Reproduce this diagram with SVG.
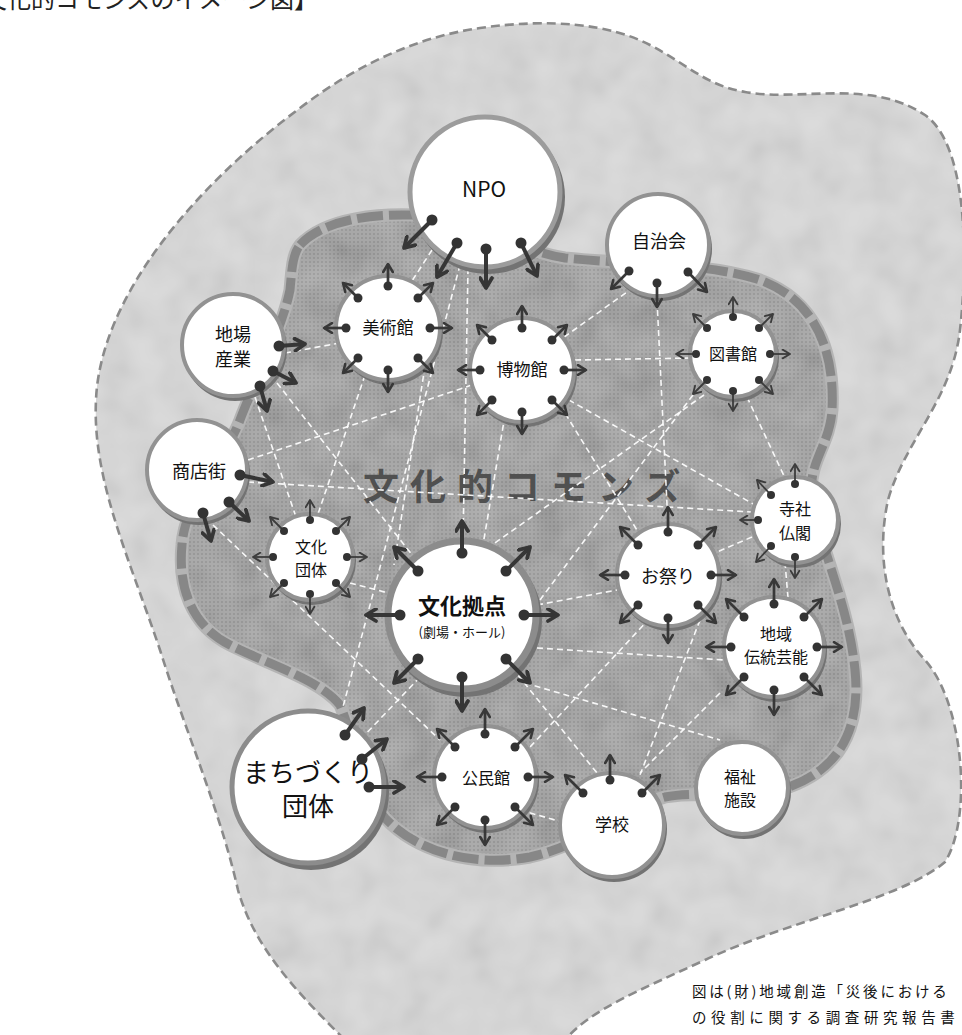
<svg xmlns="http://www.w3.org/2000/svg" width="962" height="1035" viewBox="0 0 962 1035">
<defs>
<style>
text{font-family:"Noto Sans CJK JP","Noto Sans",sans-serif;fill:#111;text-anchor:middle}
.node{fill:#fff;stroke:#929292;stroke-width:4}
.shadow{fill:#737373}
.conn{stroke:#fff;stroke-width:1.6;stroke-dasharray:6 4;fill:none;opacity:0.92}
.tk{stroke:#363636;stroke-width:4;fill:none;marker-end:url(#ahThick)}
.md{stroke:#383838;stroke-width:2.7;fill:none;marker-end:url(#ahMed)}
.tn{stroke:#3c3c3c;stroke-width:1.8;fill:none;marker-end:url(#ahThin)}
.d1{fill:#333}
</style>
<marker id="ahThick" viewBox="0 0 12 12" refX="10" refY="6" markerWidth="15" markerHeight="15" orient="auto" markerUnits="userSpaceOnUse"><path d="M2,1.2 L10,6 L2,10.8" fill="none" stroke="#363636" stroke-width="3" stroke-linecap="round" stroke-linejoin="round"/></marker>
<marker id="ahMed" viewBox="0 0 12 12" refX="10" refY="6" markerWidth="12" markerHeight="12" orient="auto" markerUnits="userSpaceOnUse"><path d="M2,1.2 L10,6 L2,10.8" fill="none" stroke="#383838" stroke-width="2.6" stroke-linecap="round" stroke-linejoin="round"/></marker>
<marker id="ahThin" viewBox="0 0 12 12" refX="10" refY="6" markerWidth="11" markerHeight="11" orient="auto" markerUnits="userSpaceOnUse"><path d="M2,1.2 L10,6 L2,10.8" fill="none" stroke="#3c3c3c" stroke-width="2" stroke-linecap="round" stroke-linejoin="round"/></marker>
<pattern id="halftone" width="4" height="4" patternUnits="userSpaceOnUse"><rect width="4" height="4" fill="#a4a4a4"/><circle cx="2" cy="2" r="1" fill="#8c8c8c"/></pattern>
<filter id="cloud" x="0" y="0" width="100%" height="100%"><feTurbulence type="fractalNoise" baseFrequency="0.03" numOctaves="2" seed="5"/><feColorMatrix type="matrix" values="1 0 0 0 0 1 0 0 0 0 1 0 0 0 0 0 0 0 0 0.35"/></filter>
<clipPath id="outerClip"><path d="M300,108 C350,70 410,38 480,28 C550,18 610,24 650,45 C690,66 705,85 745,92 C800,102 870,78 925,115 C968,145 968,260 960,330 C952,400 905,440 888,500 C875,560 888,620 925,660 C965,705 972,820 945,862 C900,900 790,920 705,960 C640,990 590,1010 565,1040 L345,1040 C300,995 255,950 238,890 C220,810 185,730 160,650 C130,560 92,480 96,400 C100,300 190,190 300,108 Z"/></clipPath>
<clipPath id="innerClip"><path d="M300,245 C325,218 380,212 430,216 C480,220 520,252 565,258 C630,265 705,262 760,280 C815,300 835,350 832,410 C830,445 808,462 812,495 C818,545 848,600 855,670 C862,740 830,775 780,790 C740,800 700,790 665,797 C620,810 585,845 530,857 C470,868 415,850 385,818 C360,790 355,740 340,705 C320,680 270,665 230,645 C190,625 178,585 182,545 C185,500 225,460 240,420 C255,380 282,330 290,290 C292,270 292,255 300,245 Z"/></clipPath>
</defs>
<rect width="962" height="1035" fill="#fff"/>
<text x="-41" y="8" font-size="24" style="fill:#222;text-anchor:start">【文化的コモンズのイメージ図】</text>

<g id="outer-area">
<path d="M300,108 C350,70 410,38 480,28 C550,18 610,24 650,45 C690,66 705,85 745,92 C800,102 870,78 925,115 C968,145 968,260 960,330 C952,400 905,440 888,500 C875,560 888,620 925,660 C965,705 972,820 945,862 C900,900 790,920 705,960 C640,990 590,1010 565,1040 L345,1040 C300,995 255,950 238,890 C220,810 185,730 160,650 C130,560 92,480 96,400 C100,300 190,190 300,108 Z" fill="#d9d9d9"/>
<rect width="962" height="1035" filter="url(#cloud)" clip-path="url(#outerClip)" opacity="0.35"/>
<path d="M300,108 C350,70 410,38 480,28 C550,18 610,24 650,45 C690,66 705,85 745,92 C800,102 870,78 925,115 C968,145 968,260 960,330 C952,400 905,440 888,500 C875,560 888,620 925,660 C965,705 972,820 945,862 C900,900 790,920 705,960 C640,990 590,1010 565,1040 L345,1040 C300,995 255,950 238,890 C220,810 185,730 160,650 C130,560 92,480 96,400 C100,300 190,190 300,108 Z" fill="none" stroke="#8a8a8a" stroke-width="2.6" stroke-dasharray="9 5"/>
</g>

<g id="inner-area">
<path d="M300,245 C325,218 380,212 430,216 C480,220 520,252 565,258 C630,265 705,262 760,280 C815,300 835,350 832,410 C830,445 808,462 812,495 C818,545 848,600 855,670 C862,740 830,775 780,790 C740,800 700,790 665,797 C620,810 585,845 530,857 C470,868 415,850 385,818 C360,790 355,740 340,705 C320,680 270,665 230,645 C190,625 178,585 182,545 C185,500 225,460 240,420 C255,380 282,330 290,290 C292,270 292,255 300,245 Z" fill="url(#halftone)"/>
<rect width="962" height="1035" filter="url(#cloud)" clip-path="url(#innerClip)" opacity="0.5"/>
<path d="M300,245 C325,218 380,212 430,216 C480,220 520,252 565,258 C630,265 705,262 760,280 C815,300 835,350 832,410 C830,445 808,462 812,495 C818,545 848,600 855,670 C862,740 830,775 780,790 C740,800 700,790 665,797 C620,810 585,845 530,857 C470,868 415,850 385,818 C360,790 355,740 340,705 C320,680 270,665 230,645 C190,625 178,585 182,545 C185,500 225,460 240,420 C255,380 282,330 290,290 C292,270 292,255 300,245 Z" fill="none" stroke="#b4b4b4" stroke-width="13"/>
<path d="M300,245 C325,218 380,212 430,216 C480,220 520,252 565,258 C630,265 705,262 760,280 C815,300 835,350 832,410 C830,445 808,462 812,495 C818,545 848,600 855,670 C862,740 830,775 780,790 C740,800 700,790 665,797 C620,810 585,845 530,857 C470,868 415,850 385,818 C360,790 355,740 340,705 C320,680 270,665 230,645 C190,625 178,585 182,545 C185,500 225,460 240,420 C255,380 282,330 290,290 C292,270 292,255 300,245 Z" fill="none" stroke="#878787" stroke-width="9" stroke-dasharray="26 6"/>
</g>

<text x="363" y="500" font-size="36" font-weight="bold" letter-spacing="11" style="fill:#505050;text-anchor:start">文化的コモンズ</text>

<g id="connectors">
<line class="conn" x1="285" y1="353" x2="340" y2="343"/>
<line class="conn" x1="255" y1="397" x2="297" y2="520"/>
<line class="conn" x1="277" y1="383" x2="420" y2="565"/>
<line class="conn" x1="248" y1="460" x2="472" y2="385"/>
<line class="conn" x1="248" y1="482" x2="752" y2="512"/>
<line class="conn" x1="213" y1="525" x2="440" y2="740"/>
<line class="conn" x1="350" y1="583" x2="392" y2="594"/>
<line class="conn" x1="460" y1="265" x2="343" y2="707"/>
<line class="conn" x1="468" y1="268" x2="463" y2="540"/>
<line class="conn" x1="432" y1="250" x2="410" y2="284"/>
<line class="conn" x1="634" y1="287" x2="560" y2="340"/>
<line class="conn" x1="657" y1="300" x2="668" y2="525"/>
<line class="conn" x1="575" y1="360" x2="690" y2="358"/>
<line class="conn" x1="693" y1="395" x2="540" y2="600"/>
<line class="conn" x1="704" y1="395" x2="492" y2="545"/>
<line class="conn" x1="747" y1="397" x2="785" y2="478"/>
<line class="conn" x1="560" y1="395" x2="755" y2="505"/>
<line class="conn" x1="560" y1="405" x2="640" y2="535"/>
<line class="conn" x1="505" y1="415" x2="483" y2="545"/>
<line class="conn" x1="425" y1="366" x2="394" y2="565"/>
<line class="conn" x1="365" y1="375" x2="318" y2="514"/>
<line class="conn" x1="537" y1="605" x2="617" y2="590"/>
<line class="conn" x1="537" y1="648" x2="724" y2="660"/>
<line class="conn" x1="505" y1="659" x2="597" y2="773"/>
<line class="conn" x1="525" y1="683" x2="720" y2="740"/>
<line class="conn" x1="650" y1="618" x2="530" y2="747"/>
<line class="conn" x1="700" y1="620" x2="640" y2="775"/>
<line class="conn" x1="752" y1="537" x2="717" y2="552"/>
<line class="conn" x1="785" y1="562" x2="788" y2="598"/>
<line class="conn" x1="720" y1="693" x2="640" y2="773"/>
<line class="conn" x1="520" y1="810" x2="562" y2="822"/>
<line class="conn" x1="420" y1="677" x2="360" y2="740"/>
</g>

<g id="node-npo">
<circle class="shadow" cx="488" cy="197" r="77"/>
<circle class="node" cx="485" cy="192" r="75" style="stroke:#9c9c9c;stroke-width:5"/>
<text x="484" y="197" font-size="21">NPO</text>
<path class="tk" d="M432,220 L404,248"/><circle class="d1" cx="432" cy="220" r="5.5"/>
<path class="tk" d="M457,243 L437,277"/><circle class="d1" cx="457" cy="243" r="5.5"/>
<path class="tk" d="M486,249 L486,288"/><circle class="d1" cx="486" cy="249" r="5.5"/>
<path class="tk" d="M521,243 L537,276"/><circle class="d1" cx="521" cy="243" r="5.5"/>
</g>

<g id="node-jichikai">
<circle class="shadow" cx="660" cy="249" r="52"/>
<circle class="node" cx="658" cy="245" r="51"/>
<text x="659" y="248" font-size="18">自治会</text>
<path class="md" d="M629,271 L611,289"/><circle class="d1" cx="629" cy="271" r="4.5"/>
<path class="md" d="M657,283 L657,307"/><circle class="d1" cx="657" cy="283" r="4.5"/>
<path class="md" d="M688,272 L707,292"/><circle class="d1" cx="688" cy="272" r="4.5"/>
</g>

<g id="node-jiba">
<circle class="shadow" cx="235" cy="349" r="52"/>
<circle class="node" cx="233" cy="345" r="51"/>
<text x="233" y="341" font-size="18">地場</text>
<text x="233" y="366" font-size="18">産業</text>
<path class="tk" d="M279,346 L305,344"/><circle class="d1" cx="279" cy="346" r="5.5"/>
<path class="tk" d="M273,371 L296,383"/><circle class="d1" cx="273" cy="371" r="5.5"/>
<path class="tk" d="M260,386 L267,411"/><circle class="d1" cx="260" cy="386" r="5.5"/>
</g>

<g id="node-shotengai">
<circle class="shadow" cx="199" cy="474" r="51"/>
<circle class="node" cx="197" cy="470" r="50"/>
<text x="199" y="478" font-size="18">商店街</text>
<path class="tk" d="M240,475 L273,482"/><circle class="d1" cx="240" cy="475" r="5.5"/>
<path class="tk" d="M229,502 L249,521"/><circle class="d1" cx="229" cy="502" r="5.5"/>
<path class="tk" d="M203,513 L211,541"/><circle class="d1" cx="203" cy="513" r="5.5"/>
</g>

<g id="node-bijutsukan">
<circle class="shadow" cx="390" cy="332" r="53"/>
<circle class="node" cx="388" cy="328" r="52"/>
<text x="388" y="334" font-size="17">美術館</text>
<path class="md" d="M388,286 L388,264"/><circle class="d1" cx="388" cy="286" r="4.5"/>
<path class="md" d="M418,298 L433,283"/><circle class="d1" cx="418" cy="298" r="4.5"/>
<path class="md" d="M430,328 L452,328"/><circle class="d1" cx="430" cy="328" r="4.5"/>
<path class="md" d="M418,358 L433,373"/><circle class="d1" cx="418" cy="358" r="4.5"/>
<path class="md" d="M388,370 L388,392"/><circle class="d1" cx="388" cy="370" r="4.5"/>
<path class="md" d="M358,358 L343,373"/><circle class="d1" cx="358" cy="358" r="4.5"/>
<path class="md" d="M346,328 L324,328"/><circle class="d1" cx="346" cy="328" r="4.5"/>
<path class="md" d="M358,298 L343,283"/><circle class="d1" cx="358" cy="298" r="4.5"/>
</g>

<g id="node-hakubutsukan">
<circle class="shadow" cx="524" cy="374" r="53"/>
<circle class="node" cx="522" cy="370" r="52"/>
<text x="522" y="376" font-size="17">博物館</text>
<path class="md" d="M522,328 L522,306"/><circle class="d1" cx="522" cy="328" r="4.5"/>
<path class="md" d="M552,340 L567,325"/><circle class="d1" cx="552" cy="340" r="4.5"/>
<path class="md" d="M564,370 L586,370"/><circle class="d1" cx="564" cy="370" r="4.5"/>
<path class="md" d="M552,400 L567,415"/><circle class="d1" cx="552" cy="400" r="4.5"/>
<path class="md" d="M522,412 L522,434"/><circle class="d1" cx="522" cy="412" r="4.5"/>
<path class="md" d="M492,400 L477,415"/><circle class="d1" cx="492" cy="400" r="4.5"/>
<path class="md" d="M480,370 L458,370"/><circle class="d1" cx="480" cy="370" r="4.5"/>
<path class="md" d="M492,340 L477,325"/><circle class="d1" cx="492" cy="340" r="4.5"/>
</g>

<g id="node-toshokan">
<circle class="shadow" cx="735" cy="358" r="44"/>
<circle class="node" cx="733" cy="354" r="43"/>
<text x="733" y="360" font-size="16">図書館</text>
<path class="tn" d="M733,317 L733,297"/><circle class="d1" cx="733" cy="317" r="4"/>
<path class="tn" d="M759,328 L773,314"/><circle class="d1" cx="759" cy="328" r="4"/>
<path class="tn" d="M770,354 L790,354"/><circle class="d1" cx="770" cy="354" r="4"/>
<path class="tn" d="M759,380 L773,394"/><circle class="d1" cx="759" cy="380" r="4"/>
<path class="tn" d="M733,391 L733,411"/><circle class="d1" cx="733" cy="391" r="4"/>
<path class="tn" d="M707,380 L693,394"/><circle class="d1" cx="707" cy="380" r="4"/>
<path class="tn" d="M696,354 L676,354"/><circle class="d1" cx="696" cy="354" r="4"/>
<path class="tn" d="M707,328 L693,314"/><circle class="d1" cx="707" cy="328" r="4"/>
</g>

<g id="node-bunkadantai">
<circle class="shadow" cx="312" cy="561" r="44"/>
<circle class="node" cx="310" cy="557" r="43"/>
<text x="311" y="553" font-size="16">文化</text>
<text x="311" y="576" font-size="16">団体</text>
<path class="tn" d="M310,520 L310,500"/><circle class="d1" cx="310" cy="520" r="4"/>
<path class="tn" d="M336,531 L350,517"/><circle class="d1" cx="336" cy="531" r="4"/>
<path class="tn" d="M347,557 L367,557"/><circle class="d1" cx="347" cy="557" r="4"/>
<path class="tn" d="M336,583 L350,597"/><circle class="d1" cx="336" cy="583" r="4"/>
<path class="tn" d="M310,594 L310,614"/><circle class="d1" cx="310" cy="594" r="4"/>
<path class="tn" d="M284,583 L270,597"/><circle class="d1" cx="284" cy="583" r="4"/>
<path class="tn" d="M273,557 L253,557"/><circle class="d1" cx="273" cy="557" r="4"/>
<path class="tn" d="M284,531 L270,517"/><circle class="d1" cx="284" cy="531" r="4"/>
</g>

<g id="node-bunkakyoten">
<circle class="shadow" cx="465" cy="620" r="77"/>
<circle class="node" cx="462" cy="615" r="74" style="stroke:#8c8c8c;stroke-width:7"/>
<text x="462" y="614" font-size="22" font-weight="bold">文化拠点</text>
<text x="462" y="637" font-size="13">(劇場・ホール)</text>
<path class="tk" d="M462,553 L462,521"/><circle class="d1" cx="462" cy="553" r="5.5"/>
<path class="tk" d="M506,571 L530,547"/><circle class="d1" cx="506" cy="571" r="5.5"/>
<path class="tk" d="M524,615 L558,615"/><circle class="d1" cx="524" cy="615" r="5.5"/>
<path class="tk" d="M506,659 L530,683"/><circle class="d1" cx="506" cy="659" r="5.5"/>
<path class="tk" d="M462,677 L462,711"/><circle class="d1" cx="462" cy="677" r="5.5"/>
<path class="tk" d="M418,659 L394,683"/><circle class="d1" cx="418" cy="659" r="5.5"/>
<path class="tk" d="M400,615 L366,615"/><circle class="d1" cx="400" cy="615" r="5.5"/>
<path class="tk" d="M418,571 L394,547"/><circle class="d1" cx="418" cy="571" r="5.5"/>
</g>

<g id="node-omatsuri">
<circle class="shadow" cx="670" cy="579" r="52"/>
<circle class="node" cx="668" cy="575" r="51"/>
<text x="668" y="583" font-size="18">お祭り</text>
<path class="md" d="M668,532 L668,507"/><circle class="d1" cx="668" cy="532" r="4.5"/>
<path class="md" d="M698,545 L716,527"/><circle class="d1" cx="698" cy="545" r="4.5"/>
<path class="md" d="M711,575 L736,575"/><circle class="d1" cx="711" cy="575" r="4.5"/>
<path class="md" d="M698,605 L716,623"/><circle class="d1" cx="698" cy="605" r="4.5"/>
<path class="md" d="M668,618 L668,643"/><circle class="d1" cx="668" cy="618" r="4.5"/>
<path class="md" d="M638,605 L620,623"/><circle class="d1" cx="638" cy="605" r="4.5"/>
<path class="md" d="M625,575 L600,575"/><circle class="d1" cx="625" cy="575" r="4.5"/>
<path class="md" d="M638,545 L620,527"/><circle class="d1" cx="638" cy="545" r="4.5"/>
</g>

<g id="node-jisha">
<circle class="shadow" cx="797" cy="524" r="44"/>
<circle class="node" cx="795" cy="520" r="43"/>
<text x="795" y="515" font-size="16">寺社</text>
<text x="795" y="539" font-size="16">仏閣</text>
<path class="tn" d="M795,484 L795,464"/><circle class="d1" cx="795" cy="484" r="4"/>
<path class="tn" d="M771,495 L757,480"/><circle class="d1" cx="771" cy="495" r="4"/>
<path class="tn" d="M758,520 L740,520"/><circle class="d1" cx="758" cy="520" r="4"/>
<path class="tn" d="M771,546 L756,562"/><circle class="d1" cx="771" cy="546" r="4"/>
<path class="tn" d="M795,557 L795,578"/><circle class="d1" cx="795" cy="557" r="4"/>
</g>

<g id="node-dentogeino">
<circle class="shadow" cx="776" cy="651" r="51"/>
<circle class="node" cx="774" cy="647" r="50"/>
<text x="776" y="640" font-size="16">地域</text>
<text x="776" y="663" font-size="16">伝統芸能</text>
<path class="md" d="M774,604 L774,579"/><circle class="d1" cx="774" cy="604" r="4.5"/>
<path class="md" d="M804,617 L822,599"/><circle class="d1" cx="804" cy="617" r="4.5"/>
<path class="md" d="M817,647 L842,647"/><circle class="d1" cx="817" cy="647" r="4.5"/>
<path class="md" d="M804,677 L822,695"/><circle class="d1" cx="804" cy="677" r="4.5"/>
<path class="md" d="M774,690 L774,715"/><circle class="d1" cx="774" cy="690" r="4.5"/>
<path class="md" d="M744,677 L726,695"/><circle class="d1" cx="744" cy="677" r="4.5"/>
<path class="md" d="M731,647 L706,647"/><circle class="d1" cx="731" cy="647" r="4.5"/>
<path class="md" d="M744,617 L726,599"/><circle class="d1" cx="744" cy="617" r="4.5"/>
</g>

<g id="node-fukushi">
<circle class="shadow" cx="744" cy="792" r="47"/>
<circle class="node" cx="742" cy="788" r="46"/>
<text x="740" y="783" font-size="16">福祉</text>
<text x="740" y="806" font-size="16">施設</text>
</g>

<g id="node-gakko">
<circle class="shadow" cx="614" cy="829" r="53"/>
<circle class="node" cx="612" cy="825" r="52"/>
<text x="612" y="831" font-size="17">学校</text>
<path class="md" d="M583,793 L565,775"/><circle class="d1" cx="583" cy="793" r="4.5"/>
<path class="md" d="M610,780 L610,755"/><circle class="d1" cx="610" cy="780" r="4.5"/>
<path class="md" d="M642,793 L660,775"/><circle class="d1" cx="642" cy="793" r="4.5"/>
</g>

<g id="node-kominkan">
<circle class="shadow" cx="487" cy="781" r="52"/>
<circle class="node" cx="485" cy="777" r="51"/>
<text x="486" y="784" font-size="16">公民館</text>
<path class="md" d="M485,734 L485,709"/><circle class="d1" cx="485" cy="734" r="4.5"/>
<path class="md" d="M515,747 L533,729"/><circle class="d1" cx="515" cy="747" r="4.5"/>
<path class="md" d="M528,777 L553,777"/><circle class="d1" cx="528" cy="777" r="4.5"/>
<path class="md" d="M515,807 L533,825"/><circle class="d1" cx="515" cy="807" r="4.5"/>
<path class="md" d="M485,820 L485,845"/><circle class="d1" cx="485" cy="820" r="4.5"/>
<path class="md" d="M455,807 L437,825"/><circle class="d1" cx="455" cy="807" r="4.5"/>
<path class="md" d="M442,777 L417,777"/><circle class="d1" cx="442" cy="777" r="4.5"/>
<path class="md" d="M455,747 L437,729"/><circle class="d1" cx="455" cy="747" r="4.5"/>
</g>

<g id="node-machizukuri">
<circle class="shadow" cx="311" cy="792" r="78"/>
<circle class="node" cx="308" cy="787" r="76" style="stroke:#8c8c8c;stroke-width:5"/>
<text x="308" y="782" font-size="26">まちづくり</text>
<text x="308" y="816" font-size="26">団体</text>
<path class="tk" d="M345,735 L364,708"/><circle class="d1" cx="345" cy="735" r="5.5"/>
<path class="tk" d="M362,759 L387,739"/><circle class="d1" cx="362" cy="759" r="5.5"/>
<path class="tk" d="M369,787 L404,787"/><circle class="d1" cx="369" cy="787" r="5.5"/>
</g>

<g id="note">
<text x="692" y="997" font-size="14.5" letter-spacing="2.8" style="text-anchor:start">図は(財)地域創造「災後における</text>
<text x="692" y="1023" font-size="14.5" letter-spacing="4.6" style="text-anchor:start">の役割に関する調査研究報告書</text>
</g>
</svg>
